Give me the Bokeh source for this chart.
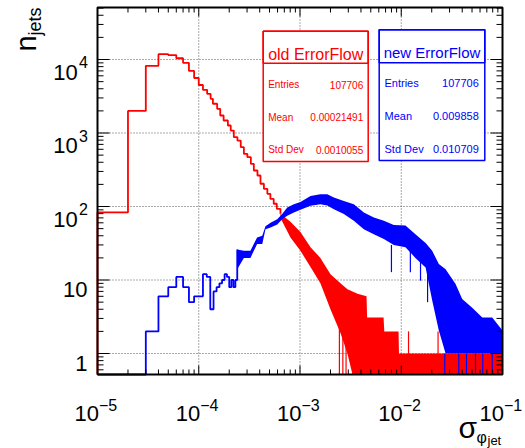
import math
from bokeh.plotting import figure
from bokeh.models import Range1d, Label, BoxAnnotation
from bokeh.embed import file_html
from bokeh.resources import INLINE

RED = "#ff0000"
BLUE = "#0000ff"
FONT = "Liberation Sans"

# ---------------- data ----------------
# old ErrorFlow: individually visible bins (left edges, width 1e-5)
red_bin_left = [1e-5, 2e-5, 3e-5, 4e-5, 5e-5, 6e-5, 7e-5, 8e-5, 9e-5, 1e-4]
red_bin_count = [83, 2000, 8200, 11800, 11500, 10400, 9000, 7000, 5600, 4500]
# old ErrorFlow: further steps read along the falling edge
red_step_x = [1.10e-4, 1.21e-4, 1.31e-4, 1.38e-4, 1.52e-4, 1.63e-4, 1.76e-4, 1.94e-4,
              2.07e-4, 2.22e-4, 2.41e-4, 2.60e-4, 2.79e-4, 3.02e-4, 3.27e-4, 3.50e-4,
              3.80e-4, 4.07e-4, 4.40e-4, 4.76e-4, 5.10e-4, 5.50e-4, 5.90e-4]
red_step_y = [3870, 3410, 2920, 2500, 2130, 1730, 1480, 1265, 1080, 877, 790, 641,
              521, 469, 381, 309, 264, 204, 174, 149, 127, 109, 93]
# old ErrorFlow: fluctuating region, upper / lower envelope (0 = empty bins)
red_band_x = [6.41e-4, 8.05e-4, 1.01e-3, 1.27e-3, 1.59e-3, 2.0e-3, 2.51e-3, 2.94e-3,
              3.30e-3, 3.70e-3, 4.54e-3, 4.60e-3, 6.69e-3, 6.80e-3, 9.40e-3, 9.50e-3, 1e-1]
red_band_hi = [80, 62, 45, 28, 20, 12, 9, 7.5, 7, 6.5, 6, 3.1, 3.1, 2, 2, 1, 1]
red_band_lo = [70, 38, 25, 15, 9, 4, 1.9, 1, 0, 0, 0, 0, 0, 0, 0, 0, 0]
red_spike_x = [2.45e-3, 2.65e-3, 2.85e-3, 1.18e-2, 2.31e-2]
red_spike_lo = [0, 0, 0, 0, 0]
red_spike_hi = [3, 2, 1.5, 2, 2]

# new ErrorFlow: individually visible bins
blue_bin_left = [1e-5, 2e-5, 3e-5, 4e-5, 5e-5, 6e-5, 7e-5, 8e-5, 9e-5, 1.0e-4, 1.1e-4,
                 1.2e-4, 1.3e-4, 1.4e-4, 1.5e-4, 1.6e-4, 1.7e-4, 1.8e-4, 1.9e-4, 2.0e-4,
                 2.1e-4, 2.2e-4, 2.3e-4]
blue_bin_count = [0, 0, 2, 6, 8, 11, 8, 5, 6, 6, 12, 11, 4, 7, 8, 9, 10, 12, 11, 8, 10, 8, 10]
# new ErrorFlow: fluctuating region, upper / lower envelope
blue_band_x = [2.40e-4, 2.79e-4, 3.24e-4, 3.77e-4, 4.24e-4, 4.56e-4, 5.12e-4, 5.96e-4,
               6.67e-4, 7.48e-4, 8.69e-4, 1.01e-3, 1.27e-3, 1.59e-3, 1.86e-3, 2.16e-3,
               2.71e-3, 3.40e-3, 4.27e-3, 5.36e-3, 6.73e-3, 8.44e-3, 1.10e-2, 1.38e-2,
               1.74e-2, 2.02e-2, 2.35e-2, 2.74e-2, 3.44e-2, 4.00e-2, 5.02e-2, 6.31e-2,
               7.91e-2, 1e-1]
blue_band_hi = [26, 25, 25, 38, 40, 54, 60, 67, 79, 97, 107, 115, 139, 147, 147, 133,
                119, 107, 83, 71, 64, 56, 55, 42, 32, 25, 16.5, 14, 8.8, 5.5, 4.2, 3.1, 3.1, 2.05]
blue_band_lo = [14, 20, 20, 31, 31, 49, 52, 57, 67, 75, 83, 90, 102, 107, 103, 92,
                79, 64, 49, 42, 36, 30, 28, 20, 14.8, 5.3, 2.05, 1, 1, 1, 1, 1, 1, 1]
blue_spike_x = [8.0e-3, 1.23e-2, 1.55e-2, 1.82e-2, 2.69e-2, 3.70e-2, 4.41e-2, 5.41e-2, 6.38e-2, 7.91e-2]
blue_spike_lo = [12.8, 12.7, 9.8, 5, 0, 0, 0, 0, 0, 0]
blue_spike_hi = [30, 28, 20, 15, 1, 1, 1, 1, 1, 1]

stats_old = [("Entries", "107706"), ("Mean", "0.00021491"), ("Std Dev", "0.0010055")]
stats_new = [("Entries", "107706"), ("Mean", "0.009858"), ("Std Dev", "0.010709")]

x_major_exp = [-5, -4, -3, -2, -1]
y_major = [1, 10, 100, 1000, 10000]

# axes frame (data limits) and its place on the 525x448 canvas
XMIN, XMAX = 1e-5, 1e-1
YMIN, YMAX = 0.518, 5.1e4
W, H = 525, 448
FL, FR, FT, FB = 97, 502, 7, 374   # frame edges in canvas pixels

DX = (math.log10(XMAX) - math.log10(XMIN)) / (FR - FL)   # decades per pixel
DY = (math.log10(YMAX) - math.log10(YMIN)) / (FB - FT)
X_LO = 10 ** (math.log10(XMIN) - FL * DX)
X_HI = 10 ** (math.log10(XMAX) + (W - FR) * DX)
Y_LO = 10 ** (math.log10(YMIN) - (H - FB) * DY)
Y_HI = 10 ** (math.log10(YMAX) + FT * DY)

p = figure(width=W, height=H, x_axis_type="log", y_axis_type="log",
           x_range=Range1d(X_LO, X_HI), y_range=Range1d(Y_LO, Y_HI),
           x_axis_location=None, y_axis_location=None,
           output_backend="svg", toolbar_location=None, min_border=0)
p.background_fill_color = "white"
p.border_fill_color = "white"
p.outline_line_color = None
p.xgrid.visible = False
p.ygrid.visible = False

x_major = [10.0 ** e for e in x_major_exp]
x_minor = [k * 10.0 ** e for e in range(-5, -1) for k in range(2, 10)]
y_minor = [k * 10.0 ** e for e in range(-1, 5) for k in range(2, 10) if YMIN < k * 10.0 ** e < YMAX]

# dotted grid at major ticks
gx = [t for t in x_major if XMIN < t < XMAX]
gy = [t for t in y_major if YMIN < t < YMAX]
p.segment(x0=gx, y0=[YMIN] * len(gx), x1=gx, y1=[YMAX] * len(gx),
          line_color="#555555", line_dash="1 2", line_width=1)
p.segment(x0=[XMIN] * len(gy), y0=gy, x1=[XMAX] * len(gy), y1=gy,
          line_color="#555555", line_dash="1 2", line_width=1)


def fl(v):
    return v if v > 0 else YMIN


def step_path(lefts, counts, right_end):
    edges = list(lefts) + [right_end]
    xs, ys = [edges[0]], [YMIN]
    for i, c in enumerate(counts):
        xs += [edges[i], edges[i + 1]]
        ys += [fl(c), fl(c)]
    return xs, ys


# old (red)
rx, ry = step_path(red_bin_left + red_step_x, red_bin_count + red_step_y, red_band_x[0])
rx.append(red_band_x[0]); ry.append(red_band_hi[0])
p.varea(x=red_band_x, y1=[fl(v) for v in red_band_lo], y2=red_band_hi, fill_color=RED)
p.line(rx, ry, line_color=RED, line_width=1.8)
p.segment(x0=red_spike_x, y0=[fl(v) for v in red_spike_lo], x1=red_spike_x, y1=red_spike_hi,
          line_color=RED, line_width=1.2)

# new (blue)
bx, by = step_path(blue_bin_left, blue_bin_count, blue_band_x[0])
bx.append(blue_band_x[0]); by.append(blue_band_hi[0])
p.varea(x=blue_band_x, y1=[fl(v) for v in blue_band_lo], y2=blue_band_hi, fill_color=BLUE)
p.line(bx, by, line_color=BLUE, line_width=1.8)
p.segment(x0=blue_spike_x, y0=[fl(v) for v in blue_spike_lo], x1=blue_spike_x, y1=blue_spike_hi,
          line_color=BLUE, line_width=1.2)


# ticks on all four sides, pointing inwards
def ticks_x(vals, length):
    up = 10 ** (length * DY)
    p.segment(x0=vals, y0=[YMIN] * len(vals), x1=vals, y1=[YMIN * up] * len(vals),
              line_color="black", line_width=1)
    p.segment(x0=vals, y0=[YMAX] * len(vals), x1=vals, y1=[YMAX / up] * len(vals),
              line_color="black", line_width=1)


def ticks_y(vals, length):
    right = 10 ** (length * DX)
    p.segment(x0=[XMIN] * len(vals), y0=vals, x1=[XMIN * right] * len(vals), y1=vals,
              line_color="black", line_width=1)
    p.segment(x0=[XMAX] * len(vals), y0=vals, x1=[XMAX / right] * len(vals), y1=vals,
              line_color="black", line_width=1)


ticks_x(x_major, 9)
ticks_x(x_minor, 5)
ticks_y(y_major, 12)
ticks_y(y_minor, 6)

# frame
p.line([XMIN, XMAX, XMAX, XMIN, XMIN], [YMIN, YMIN, YMAX, YMAX, YMIN],
       line_color="black", line_width=2)


def lab(text, x, y, xo, yo, size, color="black", align="left", baseline="alphabetic", angle=0.0):
    p.add_layout(Label(x=x, y=y, x_offset=xo, y_offset=yo, text=text, text_font=FONT,
                       text_font_size=f"{size}px", text_color=color, text_align=align,
                       text_baseline=baseline, angle=angle))


# tick labels
for e in x_major_exp:
    lab("10", 10.0 ** e, YMIN, 1.5, -39, 22, align="right")
    lab("\u2212" + str(-e), 10.0 ** e, YMIN, 1.5, -30, 16, align="left")
for v in y_major:
    if v < 100:
        lab(str(v), XMIN, v, -10, -9.5, 22, align="right")
    else:
        lab("10", XMIN, v, -19.7, -12.7, 22, align="right")
        lab(str(int(round(math.log10(v)))), XMIN, v, -9.7, -2.7, 16, align="right")

# axis titles
lab("n", XMIN, YMAX, -72, -44, 29, angle=math.pi / 2)
lab("jets", XMIN, YMAX, -63, -28, 18, angle=math.pi / 2)
lab("\u03c3", XMAX, YMIN, -44, -53, 30)
lab("\u03c6", XMAX, YMIN, -26, -63, 16)
lab("jet", XMAX, YMIN, -15, -66, 13)


# stats boxes (canvas pixel positions; screen y counts up from the bottom)
def stat_box(l, r, t, b, sep, color, title, tsize, tbase, rows, ssize, row_base, lx, rx_):
    p.add_layout(BoxAnnotation(left=l, right=r, top=H - t, bottom=H - b,
                               left_units="screen", right_units="screen",
                               top_units="screen", bottom_units="screen",
                               fill_color="white", fill_alpha=1.0,
                               line_color=color, line_width=1.5, line_alpha=1.0))
    p.add_layout(BoxAnnotation(left=l, right=r, top=H - t, bottom=H - sep,
                               left_units="screen", right_units="screen",
                               top_units="screen", bottom_units="screen",
                               fill_alpha=0.0, line_color=color, line_width=1.5, line_alpha=1.0))
    lab(title, XMIN, YMAX, (l + r) / 2 - FL, -(tbase - FT), tsize, color=color, align="center")
    for (name, val), yb in zip(rows, row_base):
        lab(name, XMIN, YMAX, lx - FL, -(yb - FT), ssize, color=color, align="left")
        lab(val, XMIN, YMAX, rx_ - FL, -(yb - FT), ssize, color=color, align="right")


stat_box(262.7, 367.7, 30.7, 161, 62.7, RED, "old ErrorFlow", 16, 54,
         stats_old, 10, [84, 116.7, 149.3], 267.7, 362.7)
stat_box(378.7, 484.3, 29.3, 160, 62.3, BLUE, "new ErrorFlow", 15, 52,
         stats_new, 11, [82.7, 115.7, 148.7], 384, 478.3)

open("out.html", "w").write(file_html(p, INLINE))
